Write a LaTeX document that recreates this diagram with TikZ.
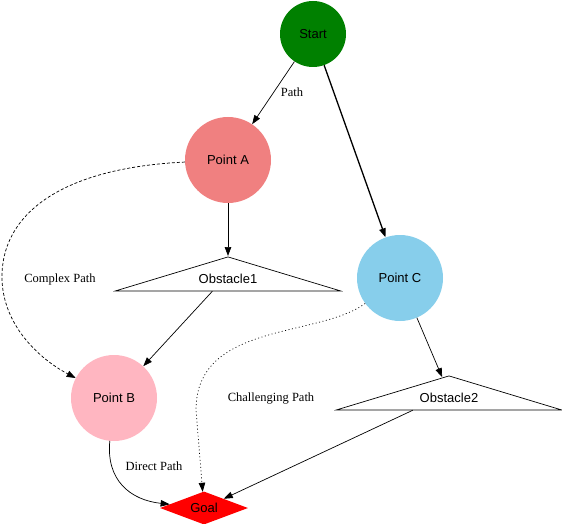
\documentclass[tikz,border=0pt]{standalone}
\usepackage{fontspec}
\setmainfont{Liberation Serif}
\newfontfamily\nodesans{Liberation Sans}
\usepackage{xcolor}
\definecolor{startgreen}{RGB}{0,128,0}
\definecolor{coralA}{RGB}{240,128,128}
\definecolor{pinkB}{RGB}{255,182,193}
\definecolor{skyC}{RGB}{135,206,235}
\definecolor{goalred}{RGB}{255,0,0}
\usepackage{tikz}
\usetikzlibrary{arrows.meta,shapes.geometric}
\tikzset{
  waypoint/.style={circle, draw=none, minimum size=86pt, inner sep=0pt,
                   font=\nodesans\fontsize{13}{15}\selectfont},
  obstacle/.style={isosceles triangle, shape border rotate=90,
                   isosceles triangle stretches, draw, line width=0.7pt, fill=white,
                   minimum width=225pt, minimum height=34pt, inner sep=0pt,
                   anchor=apex,
                   label={[font=\nodesans\fontsize{13}{15}\selectfont, inner sep=0pt,
                           anchor=center, yshift=-23pt]apex:#1}},
  goalbox/.style={diamond, aspect=2.7, fill=goalred, minimum width=88pt,
                  minimum height=33pt, inner sep=0pt,
                  font=\nodesans\fontsize{13}{15}\selectfont},
  route/.style={-{Triangle[length=9pt,width=6.5pt]}, line width=0.7pt},
  routelabel/.style={inner sep=0pt, font=\fontsize{12.5}{14}\selectfont},
}

\begin{document}
\begin{tikzpicture}[x=1pt,y=-1pt]
\useasboundingbox (0,0) rectangle (562,524);
% places
\node[waypoint, fill=startgreen, minimum size=66pt] (start) at (313,34) {Start};
\node[waypoint, fill=coralA] (pa) at (228,160) {Point A};
\node[waypoint, fill=pinkB] (pb) at (114,398) {Point B};
\node[waypoint, fill=skyC] (pc) at (400,278) {Point C};
\node[obstacle=Obstacle1] (ob1) at (228,256) {};
\node[obstacle=Obstacle2] (ob2) at (449,375) {};
\node[goalbox] (goal) at (204,508) {Goal};

% routes
\draw[route] (start) -- (pa);
\draw[route, line width=1.3pt] (start) -- (pc);
\draw[route] (pa) -- (ob1.apex);
\draw[route] (ob1) -- (pb);
\draw[route] (pc) -- (ob2);
\draw[route] (ob2) -- (goal);
\draw[route, dash pattern=on 3pt off 2pt] (pa) .. controls (60,168) and (0,215) .. (2,280)
  .. controls (4,330) and (45,362) .. (pb);
\draw[route, dash pattern=on 1pt off 2.5pt] (pc) .. controls (318,338) and (196,322) .. (196,410) -- (goal);
\draw[route] (pb) .. controls (106,480) and (130,500) .. (goal);

% labels
\node[routelabel] (lpath) at (292,92) {Path};
\node[routelabel] (lcomplex) at (60,279) {Complex Path};
\node[routelabel] (lchall) at (271,399) {Challenging Path};
\node[routelabel] (ldirect) at (154,466) {Direct Path};
\end{tikzpicture}
\end{document}
